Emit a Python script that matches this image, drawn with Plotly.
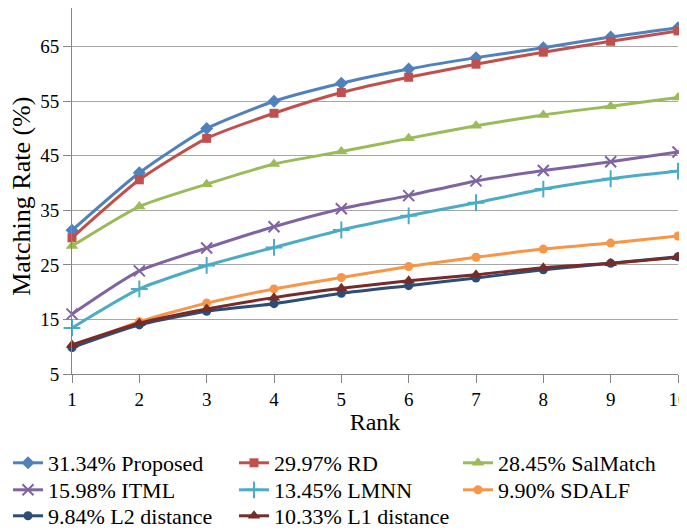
import plotly.graph_objects as go

ranks = [1, 2, 3, 4, 5, 6, 7, 8, 9, 10]

proposed = [31.34, 41.9, 50.0, 55.0, 58.3, 60.9, 63.0, 64.8, 66.8, 68.5]
rd       = [29.97, 40.6, 48.2, 52.8, 56.6, 59.4, 61.8, 64.0, 66.0, 67.9]
salmatch = [28.45, 35.7, 39.8, 43.5, 45.8, 48.2, 50.5, 52.5, 54.1, 55.7]
itml     = [15.98, 23.9, 28.1, 32.0, 35.3, 37.7, 40.4, 42.3, 43.9, 45.7]
lmnn     = [13.45, 20.6, 24.9, 28.2, 31.4, 34.0, 36.4, 38.9, 40.8, 42.2]
sdalf    = [9.90, 14.6, 18.0, 20.6, 22.7, 24.7, 26.4, 27.9, 29.0, 30.3]
l2       = [9.84, 14.0, 16.5, 17.9, 19.8, 21.2, 22.6, 24.1, 25.3, 26.5]
l1       = [10.33, 14.3, 16.9, 19.0, 20.7, 22.1, 23.2, 24.5, 25.3, 26.4]

names = ["31.34% Proposed", "29.97% RD", "28.45% SalMatch", "15.98% ITML",
         "13.45% LMNN", "9.90% SDALF", "9.84% L2 distance", "10.33% L1 distance"]
series = [proposed, rd, salmatch, itml, lmnn, sdalf, l2, l1]
colors = ["#4F81BD", "#C0504D", "#9BBB59", "#8064A2", "#4BACC6", "#F79646", "#2C4D75", "#772C2A"]
symbols = ["diamond", "square", "triangle-up", "x-thin", "cross-thin", "circle", "circle", "triangle-up"]
sizes = [10, 9, 11, 11, 12, 9, 9, 11]

x_title = "Rank"
y_title = "Matching Rate (%)"

FONT = "Liberation Serif"
W, H = 679, 522  # page body has an 8px margin
# legend grid: 3 columns x 3 rows (pixel positions in figure coords)
col_px = [0, 226, 450]
row_px = [455, 482, 508]

fig = go.Figure()
legends = {}
for i, (name, ys, c, s, sz) in enumerate(zip(names, series, colors, symbols, sizes)):
    thin = s.endswith("thin")
    key = "legend" if i == 0 else f"legend{i + 1}"
    fig.add_trace(go.Scatter(
        x=ranks, y=ys, name=name, mode="lines+markers",
        line=dict(color=c, width=3, shape="spline", smoothing=0.6),
        marker=dict(symbol=s, size=sz, color=c,
                    line=dict(color=c, width=2 if thin else 0)),
        cliponaxis=False, legend=key,
    ))
    r, col = divmod(i, 3)
    legends[key] = dict(
        xref="container", yref="container",
        x=col_px[col] / W, y=1 - row_px[r] / H,
        xanchor="left", yanchor="middle",
        itemwidth=30, font=dict(size=22, family=FONT),
        bgcolor="rgba(0,0,0,0)", borderwidth=0,
    )

fig.update_layout(
    width=W, height=H,
    margin=dict(l=64, r=9, t=0, b=156, autoexpand=False),
    plot_bgcolor="white", paper_bgcolor="white",
    font=dict(family=FONT, color="black"),
    xaxis=dict(
        range=[1, 10], tickvals=ranks, showgrid=False,
        showline=True, linecolor="#868686", linewidth=1,
        ticks="outside", ticklen=8, tickcolor="#868686",
        tickfont=dict(size=19, family=FONT), ticklabeloverflow="allow",
        title=dict(text=x_title, font=dict(size=24, family=FONT), standoff=4),
        zeroline=False, automargin=False,
    ),
    yaxis=dict(
        range=[5, 72.1], tickvals=[5, 15, 25, 35, 45, 55, 65],
        showgrid=True, gridcolor="#A6A6A6", gridwidth=1,
        showline=True, linecolor="#868686", linewidth=1,
        ticks="outside", ticklen=8, tickcolor="#868686",
        tickfont=dict(size=19, family=FONT),
        zeroline=False, automargin=False,
    ),
    annotations=[dict(
        text=y_title, textangle=-90, showarrow=False,
        xref="paper", yref="paper", x=-0.0825, y=0.484,
        xanchor="center", yanchor="middle",
        font=dict(size=26, family=FONT, color="black"),
    )],
    showlegend=True,
    **legends,
)

fig.write_html("out.html")
